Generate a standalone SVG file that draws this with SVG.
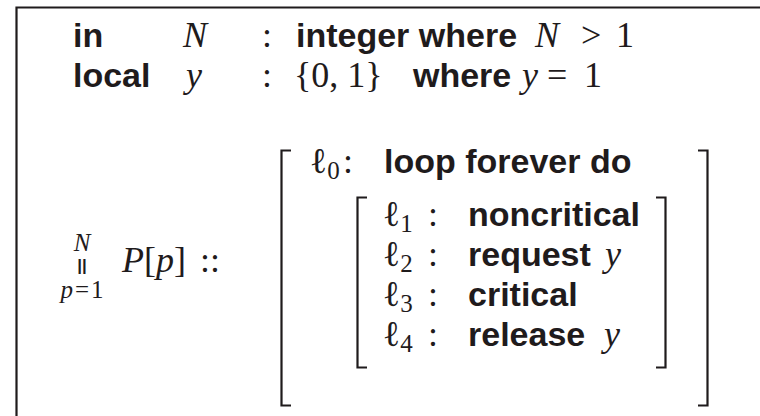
<svg xmlns="http://www.w3.org/2000/svg" width="760" height="416" viewBox="0 0 760 416">
<style>
.b{font-family:"Liberation Sans",Arial,sans-serif;font-weight:bold;font-size:34px;fill:#1f1b1c}
.m{font-family:"Liberation Serif","Times New Roman",serif;font-style:italic;font-size:36px;fill:#1f1b1c}
.r{font-family:"Liberation Serif","Times New Roman",serif;font-size:36px;fill:#1f1b1c}
.ms{font-family:"Liberation Serif","Times New Roman",serif;font-style:italic;font-size:25px;fill:#1f1b1c}
.bar{font-family:"Liberation Sans",Arial,sans-serif;font-weight:bold;font-size:17px;fill:#1f1b1c}
.sub{font-size:25px;font-style:normal}
.up{font-style:normal}
.ln{fill:none;stroke:#1f1b1c;stroke-width:2.2}
</style>
<rect width="760" height="416" fill="#fff"/>
<g id="frame">
<path class="ln" d="M16.5 416V7.5H760" stroke-width="2.5"/>
</g>
<g id="decl-in">
<text class="b" x="73" y="47">in</text>
<text class="m" x="183" y="47">N</text>
<text class="r" x="262" y="47">:</text>
<text class="b" x="296" y="47">integer where</text>
<text class="m" x="535" y="47">N</text>
<text class="r" x="581" y="47">&gt;</text>
<text class="r" x="616" y="47">1</text>
</g>
<g id="decl-local">
<text class="b" x="73" y="87">local</text>
<text class="m" x="186" y="87">y</text>
<text class="r" x="262" y="87">:</text>
<text class="r" x="294" y="87">{0, 1}</text>
<text class="b" x="413" y="87">where</text>
<text class="m" x="522" y="87">y</text>
<text class="r" x="547" y="87">=</text>
<text class="r" x="584" y="87">1</text>
</g>
<g id="process">
<text class="ms" x="82" y="251" text-anchor="middle">N</text>
<text class="bar" x="82" y="271" text-anchor="middle">||</text>
<text class="ms" x="82" y="298" text-anchor="middle">p<tspan class="up" dx="2">=</tspan><tspan class="up" dx="2">1</tspan></text>
<text class="m" x="122" y="272">P<tspan class="up">[</tspan>p<tspan class="up">]</tspan></text>
<text class="r" x="200" y="272">::</text>
</g>
<g id="brackets">
<path class="ln" d="M291 150.5H281.5V405.5H291"/>
<path class="ln" d="M698 150.5H707.5V405.5H698"/>
<path class="ln" d="M367 197.5H357.5V367.5H367"/>
<path class="ln" d="M656 197.5H665.5V367.5H656"/>
</g>
<g id="l0">
<text class="r" x="310" y="173">ℓ<tspan class="sub" dy="6">0</tspan></text>
<text class="r" x="343" y="173">:</text>
<text class="b" x="384" y="173">loop forever do</text>
</g>
<g id="l1">
<text class="r" x="383" y="226">ℓ<tspan class="sub" dy="6">1</tspan></text>
<text class="r" x="428" y="226">:</text>
<text class="b" x="468" y="226">noncritical</text>
</g>
<g id="l2">
<text class="r" x="383" y="266">ℓ<tspan class="sub" dy="6">2</tspan></text>
<text class="r" x="428" y="266">:</text>
<text class="b" x="468" y="266">request</text>
<text class="m" x="605" y="266">y</text>
</g>
<g id="l3">
<text class="r" x="383" y="306">ℓ<tspan class="sub" dy="6">3</tspan></text>
<text class="r" x="428" y="306">:</text>
<text class="b" x="468" y="306">critical</text>
</g>
<g id="l4">
<text class="r" x="383" y="346">ℓ<tspan class="sub" dy="6">4</tspan></text>
<text class="r" x="428" y="346">:</text>
<text class="b" x="468" y="346">release</text>
<text class="m" x="604" y="346">y</text>
</g>
</svg>
